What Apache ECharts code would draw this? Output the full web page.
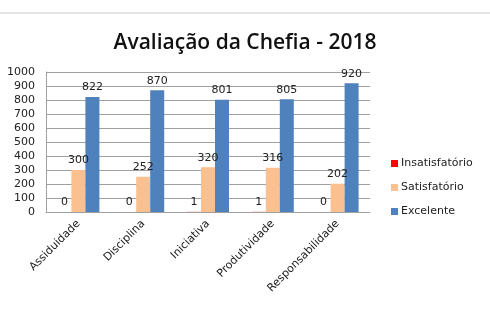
<!DOCTYPE html>
<html>
<head>
<meta charset="utf-8">
<script src="https://cdn.jsdelivr.net/npm/echarts@6/dist/echarts.min.js"></script>
<style>
html, body { margin: 0; padding: 0; background: #fff; }
#chart { width: 490px; height: 309px; }
</style>
</head>
<body>
<div id="chart"></div>
<script>
var categorias = ['Assiduidade', 'Disciplina', 'Iniciativa', 'Produtividade', 'Responsabilidade'];
var insatisfatorio = [0, 0, 1, 1, 0];
var satisfatorio = [300, 252, 320, 316, 202];
var excelente = [822, 870, 801, 805, 920];
var cores = ['#FF0000', '#FAC090', '#4F81BD'];

var mychart = echarts.init(document.getElementById('chart'));

function serie(nome, dados, cor) {
    return {
        name: nome,
        type: 'bar',
        data: dados,
        barWidth: 14,
        barGap: '0%',
        barMinHeight: 0,
        itemStyle: { color: cor },
        label: {
            show: true,
            position: 'top',
            distance: 4,
            color: '#222',
            fontSize: 11,
            fontFamily: 'DejaVu Sans'
        }
    };
}

var option = {
    animation: false,
    title: {
        text: 'Avaliação da Chefia - 2018',
        left: 'center',
        top: 28,
        textStyle: { fontFamily: 'Open Sans', fontWeight: 600, fontSize: 21, color: '#111' }
    },
    graphic: [{
        type: 'line',
        shape: { x1: 0, y1: 13, x2: 490, y2: 13 },
        style: { stroke: '#c8c8c8', lineWidth: 1 }
    }],
    legend: {
        orient: 'vertical',
        left: 386,
        top: 153,
        itemWidth: 7,
        itemHeight: 7,
        itemGap: 13,
        icon: 'rect',
        textStyle: { fontSize: 11, color: '#222', fontFamily: 'DejaVu Sans', padding: [0, 0, 0, -2] },
        data: ['Insatisfatório', 'Satisfatório', 'Excelente']
    },
    grid: { left: 46, right: 120, top: 72, bottom: 97 },
    xAxis: {
        type: 'category',
        data: categorias,
        axisTick: { show: false },
        axisLine: { lineStyle: { color: '#a0a0a0' } },
        axisLabel: { rotate: 45, fontSize: 11, color: '#222', fontFamily: 'DejaVu Sans', margin: 10 }
    },
    yAxis: {
        type: 'value',
        min: 0,
        max: 1000,
        interval: 100,
        axisLine: { show: true, lineStyle: { color: '#a0a0a0' } },
        axisTick: { show: false },
        splitLine: { lineStyle: { color: '#a0a0a0' } },
        axisLabel: {
            fontSize: 11, color: '#222', fontFamily: 'DejaVu Sans', margin: 11,
            formatter: function (v) { return String(v); }
        }
    },
    series: [
        serie('Insatisfatório', insatisfatorio, cores[0]),
        serie('Satisfatório', satisfatorio, cores[1]),
        serie('Excelente', excelente, cores[2])
    ]
};
mychart.setOption(option);
</script>
</body>
</html>
